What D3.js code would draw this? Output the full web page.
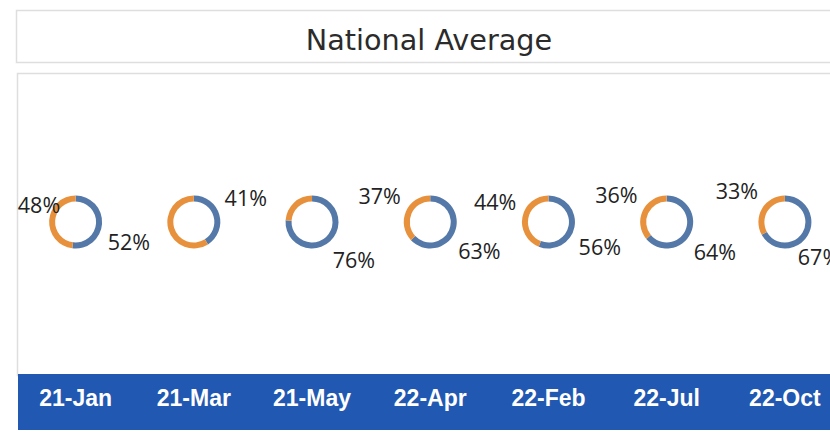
<!DOCTYPE html>
<html>
<head>
<meta charset="utf-8">
<script src="https://cdn.jsdelivr.net/npm/d3@7"></script>
<style>
  html, body { margin: 0; padding: 0; background: #fff; }
  svg { display: block; }
</style>
</head>
<body>
<script>
// months shown along the bottom band
const months = ["21-Jan", "21-Mar", "21-May", "22-Apr", "22-Feb", "22-Jul", "22-Oct"];
// blue share (%) and orange share (%) for each month
const blueValues = [52, 41, 76, 63, 56, 64, 67];
const orangeValues = [48, 59, 24, 37, 44, 36, 33];
// which slice labels are visible
const showBlue = [true, true, true, true, true, true, true];
const showOrange = [true, false, false, true, true, true, true];

// label angle nudges (degrees) so the text sits like the original
const blueNudge = [17, -8, -4, 7, 15, 7, 8];
const orangeNudge = [14, 0, 0, 4, 10, 3, 2];

const W = 830, H = 433;
const blue = "#5479a8", orange = "#e8913d";

const svg = d3.select("body").append("svg")
    .attr("width", W)
    .attr("height", H);

// title box
svg.append("rect")
    .attr("x", 16.5).attr("y", 10.5)
    .attr("width", 830).attr("height", 52)
    .attr("fill", "#fff")
    .attr("stroke", "#dedede").attr("stroke-width", 1.5);

svg.append("text")
    .attr("x", 429).attr("y", 50)
    .attr("text-anchor", "middle")
    .attr("font-family", "DejaVu Sans")
    .attr("font-size", 28.7)
    .attr("fill", "#2b2b2b")
    .text("National Average");

// chart box
svg.append("rect")
    .attr("x", 17.5).attr("y", 73.5)
    .attr("width", 830).attr("height", 302)
    .attr("fill", "#fff")
    .attr("stroke", "#dedede").attr("stroke-width", 1.5);

// x scale shared by donuts and bottom labels
const x = d3.scaleBand()
    .domain(months)
    .range([16.5, 844]);

const cy = 222;
const outerR = 26.5, innerR = 20.5, labelR = 57;

const pie = d3.pie().sort(null).value(d => d.v);
const arc = d3.arc().innerRadius(innerR).outerRadius(outerR);

const rows = months.map((m, i) => ({
  month: m,
  slices: [
    { v: blueValues[i], color: blue, show: showBlue[i], nudge: blueNudge[i] },
    { v: orangeValues[i], color: orange, show: showOrange[i], nudge: orangeNudge[i] }
  ]
}));

const g = svg.selectAll(".donut")
    .data(rows)
  .enter().append("g")
    .attr("class", "donut")
    .attr("transform", d => "translate(" + (x(d.month) + x.bandwidth() / 2) + "," + cy + ")");

g.selectAll("path")
    .data(d => pie(d.slices))
  .enter().append("path")
    .attr("d", arc)
    .attr("fill", d => d.data.color);

// percent labels
const fontPx = 21.5;
const halfLabel = 21;
g.each(function(d) {
  const cx = x(d.month) + x.bandwidth() / 2;
  d3.select(this).selectAll("text")
      .data(pie(d.slices).filter(s => s.data.show))
    .enter().append("text")
      .attr("text-anchor", "middle")
      .attr("dy", "0.36em")
      .attr("font-family", "Open Sans")
      .attr("font-size", fontPx)
      .attr("fill", "#222")
      .attr("x", s => {
        const a = (s.startAngle + s.endAngle) / 2 + s.data.nudge * Math.PI / 180;
        const lx = labelR * Math.sin(a);
        // keep labels near the chart box edges, as the original does
        const minX = 18 + halfLabel - cx;
        const maxX = W - 11 - cx;
        return Math.min(Math.max(lx, minX), maxX);
      })
      .attr("y", s => {
        const a = (s.startAngle + s.endAngle) / 2 + s.data.nudge * Math.PI / 180;
        return -labelR * Math.cos(a);
      })
      .text(s => s.data.v + "%");
});

// bottom band with month labels
svg.append("rect")
    .attr("x", 18).attr("y", 374)
    .attr("width", W - 18).attr("height", 56)
    .attr("fill", "#2158b1");

svg.selectAll(".month")
    .data(months)
  .enter().append("text")
    .attr("class", "month")
    .attr("x", d => x(d) + x.bandwidth() / 2)
    .attr("y", 406)
    .attr("text-anchor", "middle")
    .attr("font-family", "Liberation Sans, Arial, sans-serif")
    .attr("font-weight", "bold")
    .attr("font-size", 23)
    .attr("fill", "#fff")
    .text(d => d);
</script>
</body>
</html>
